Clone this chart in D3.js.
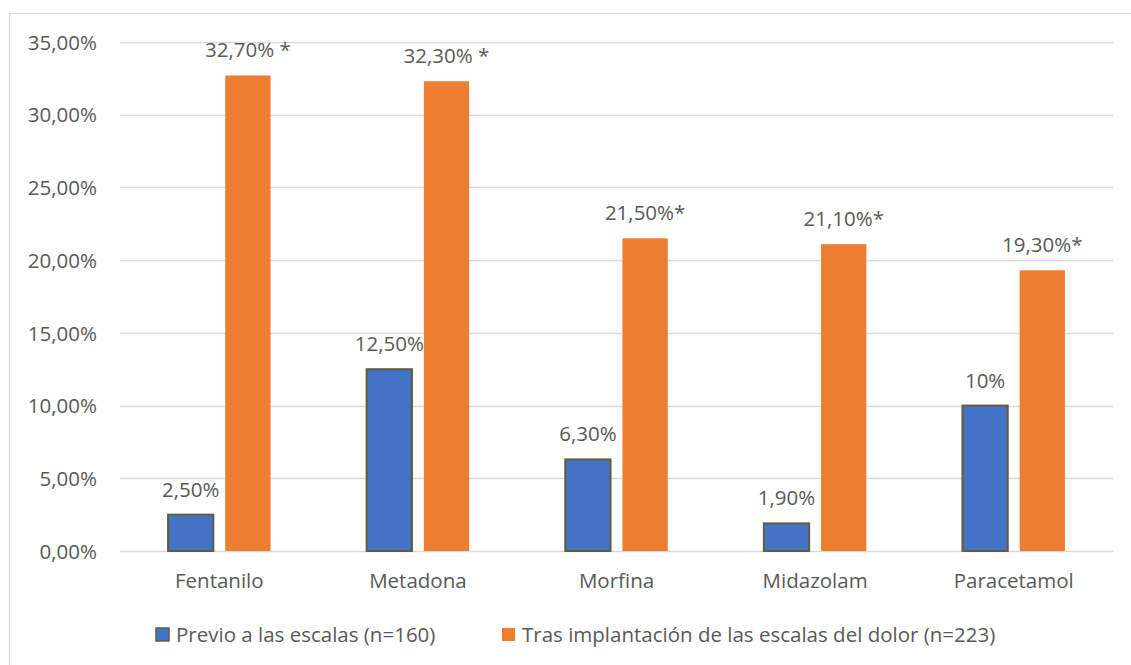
<!DOCTYPE html>
<html>
<head>
<meta charset="utf-8">
<script src="https://cdn.jsdelivr.net/npm/d3@7"></script>
<style>
  html, body { margin: 0; padding: 0; background: #fff; }
  svg text { font-family: "Open Sans", "Noto Sans", sans-serif; fill: #595959; }
</style>
</head>
<body>
<svg id="chart" width="1131" height="665"></svg>
<script>
// Drug categories
const categories = ["Fentanilo", "Metadona", "Morfina", "Midazolam", "Paracetamol"];
// Percentage of use before / after introducing pain scales
const previo = [2.5, 12.5, 6.3, 1.9, 10];
const tras = [32.7, 32.3, 21.5, 21.1, 19.3];
const previoLabels = ["2,50%", "12,50%", "6,30%", "1,90%", "10%"];
const trasLabels = ["32,70% *", "32,30% *", "21,50%*", "21,10%*", "19,30%*"];
const yTicks = [0, 5, 10, 15, 20, 25, 30, 35];
const seriesNames = ["Previo a las escalas (n=160)", "Tras implantación de las escalas del dolor (n=223)"];
const colors = ["#4472C4", "#ED7D31"];

const FS = 20.5;
const svg = d3.select("#chart");

// chart frame
svg.append("rect")
  .attr("x", 9.5).attr("y", 13.5)
  .attr("width", 1140).attr("height", 700)
  .attr("fill", "#fff").attr("stroke", "#d9d9d9").attr("stroke-width", 1);

const plotLeft = 120, plotRight = 1113, plotTop = 42, plotBottom = 551;

const x = d3.scaleBand().domain(categories).range([plotLeft, plotRight]);
const y = d3.scaleLinear().domain([0, 35]).range([plotBottom, plotTop]);

const fmt = v => d3.format(".2f")(v).replace(".", ",") + "%";

// gridlines
svg.append("g").selectAll("line").data(yTicks).join("line")
  .attr("x1", plotLeft).attr("x2", plotRight)
  .attr("y1", d => Math.round(y(d)) + 0.5).attr("y2", d => Math.round(y(d)) + 0.5)
  .attr("stroke", "#d9d9d9").attr("stroke-width", 1.5);

// y axis labels
const yAxis = d3.axisLeft(y).tickValues(yTicks).tickFormat(fmt).tickSize(0).tickPadding(0);
const ga = svg.append("g").attr("transform", `translate(97,0)`).call(yAxis);
ga.select(".domain").remove();
ga.selectAll("text").attr("font-size", FS).attr("fill", "#595959").attr("dy", "0.35em")
  .style("font-family", '"Open Sans", "Noto Sans", sans-serif');

// x axis labels
const xAxis = d3.axisBottom(x).tickSize(0).tickPadding(0);
const gx = svg.append("g").attr("transform", `translate(0,${plotBottom + 30})`).call(xAxis);
gx.select(".domain").remove();
gx.selectAll("text").attr("font-size", FS).attr("fill", "#595959").attr("dy", "0.35em")
  .style("font-family", '"Open Sans", "Noto Sans", sans-serif');

const bw = x.bandwidth() * 0.228;
const gap = x.bandwidth() * 0.06;

const groups = svg.append("g").selectAll("g").data(categories).join("g")
  .attr("transform", d => `translate(${x(d) + x.bandwidth() / 2},0)`);

// before bars
groups.append("rect")
  .attr("x", -gap / 2 - bw)
  .attr("y", (d, i) => y(previo[i]))
  .attr("width", bw)
  .attr("height", (d, i) => y(0) - y(previo[i]))
  .attr("fill", colors[0]).attr("stroke", "#5f5f3d").attr("stroke-width", 2);

// after bars
groups.append("rect")
  .attr("x", gap / 2)
  .attr("y", (d, i) => y(tras[i]))
  .attr("width", bw)
  .attr("height", (d, i) => y(0) - y(tras[i]))
  .attr("fill", colors[1]);

// value labels
groups.append("text")
  .attr("x", -gap / 2 - bw / 2)
  .attr("y", (d, i) => y(previo[i]) - 18)
  .attr("text-anchor", "middle").attr("font-size", FS)
  .text((d, i) => previoLabels[i]);

groups.append("text")
  .attr("x", gap / 2 + bw / 2)
  .attr("y", (d, i) => y(tras[i]) - 18)
  .attr("text-anchor", "middle").attr("font-size", FS)
  .text((d, i) => trasLabels[i]);

// legend
const legendX = [156, 502];
const lg = svg.append("g").selectAll("g").data(seriesNames).join("g")
  .attr("transform", (d, i) => `translate(${legendX[i]},628)`);
lg.append("rect")
  .attr("width", 13).attr("height", 13)
  .attr("fill", (d, i) => colors[i])
  .attr("stroke", (d, i) => i === 0 ? "#5f5f3d" : "none")
  .attr("stroke-width", 1.5);
lg.append("text")
  .attr("x", 20).attr("y", 6.5).attr("dy", "0.35em")
  .attr("font-size", FS)
  .text(d => d);
</script>
</body>
</html>
